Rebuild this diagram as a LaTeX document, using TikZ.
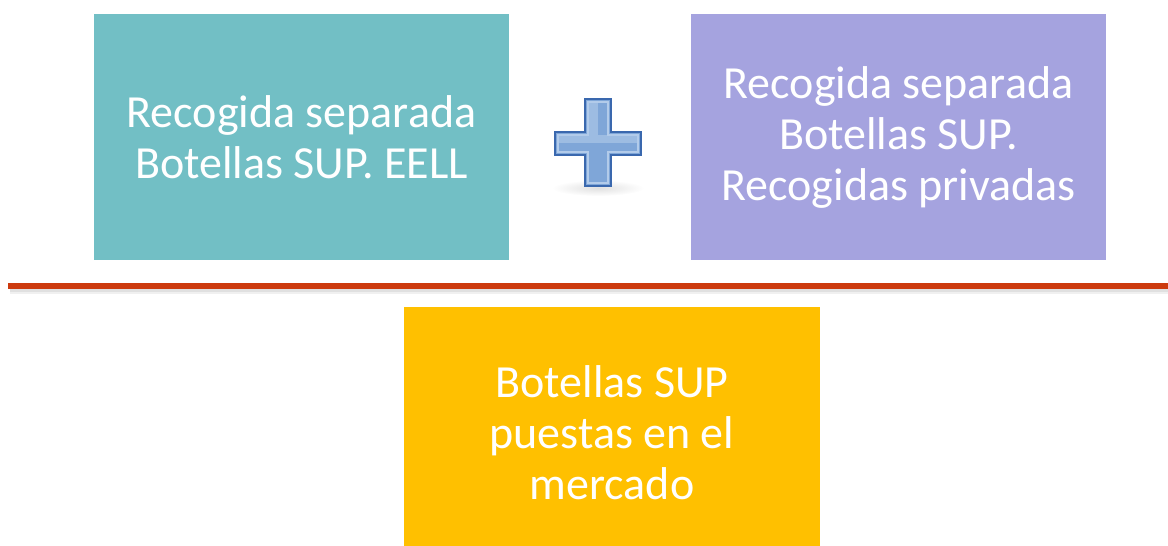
\documentclass[tikz,border=0pt]{standalone}
\usepackage{fontspec}
\setmainfont{Carlito}
\usetikzlibrary{shadings}
\definecolor{tealbox}{HTML}{72BFC5}
\definecolor{purplebox}{HTML}{A5A3DF}
\definecolor{yellowbox}{HTML}{FFC000}
\definecolor{redline}{HTML}{CC3A0E}
\definecolor{plusedge}{HTML}{3A68AE}
\definecolor{plusfill}{HTML}{7FA6D8}
\definecolor{pluslight}{HTML}{B2CBEA}
\tikzset{
  box/.style={draw=none, fill=#1, text=white, align=center, font=\fontsize{46}{51}\selectfont, inner sep=0pt},
  boxtext/.style={text=white, align=center, font=\fontsize{46}{51}\selectfont, inner sep=0pt},
}
\begin{document}
\begin{tikzpicture}[x=1pt,y=-1pt]
\useasboundingbox (0,0) rectangle (1168,546);
% boxes
\node[box=tealbox, minimum width=415pt, minimum height=246pt] (a) at (301.5,137) {Recogida separada\\Botellas SUP. EELL};
\node[box=purplebox, minimum width=415pt, minimum height=246pt] (b) at (898.5,137) {Recogida separada\\Botellas SUP.\\Recogidas privadas};
\node[box=yellowbox, minimum width=416pt, minimum height=240pt] (c) at (612,427) {};
\node[boxtext] (ct) at (612,433) {Botellas SUP\\puestas en el\\mercado};
% red line with shadow
\fill[black!12] (10,288) rectangle (1168,292);
\fill[black!6] (10,292) rectangle (1168,294);
\fill[redline] (8,283) rectangle (1168,288.5);
% plus icon
\coordinate (p) at (598,142);
\shade[inner color=black!12, outer color=white] (598,188) ellipse (46pt and 8pt);
\path[fill=plusfill, draw=plusedge, line width=2.2pt, line join=miter]
  (585,99) -- (611,99) -- (611,132) -- (641,132) -- (641,155) -- (611,155) -- (611,186) -- (585,186) -- (585,155) -- (555,155) -- (555,132) -- (585,132) -- cycle;
\path[draw=pluslight, line width=1.2pt]
  (588,102) -- (608,102) -- (608,135) -- (638,135) -- (638,152) -- (608,152) -- (608,183) -- (588,183) -- (588,152) -- (558,152) -- (558,135) -- (588,135) -- cycle;
\fill[pluslight, opacity=0.6] (558,135) rectangle (638,143);
\fill[pluslight, opacity=0.6] (588,102) rectangle (598,135);
\end{tikzpicture}
\end{document}
